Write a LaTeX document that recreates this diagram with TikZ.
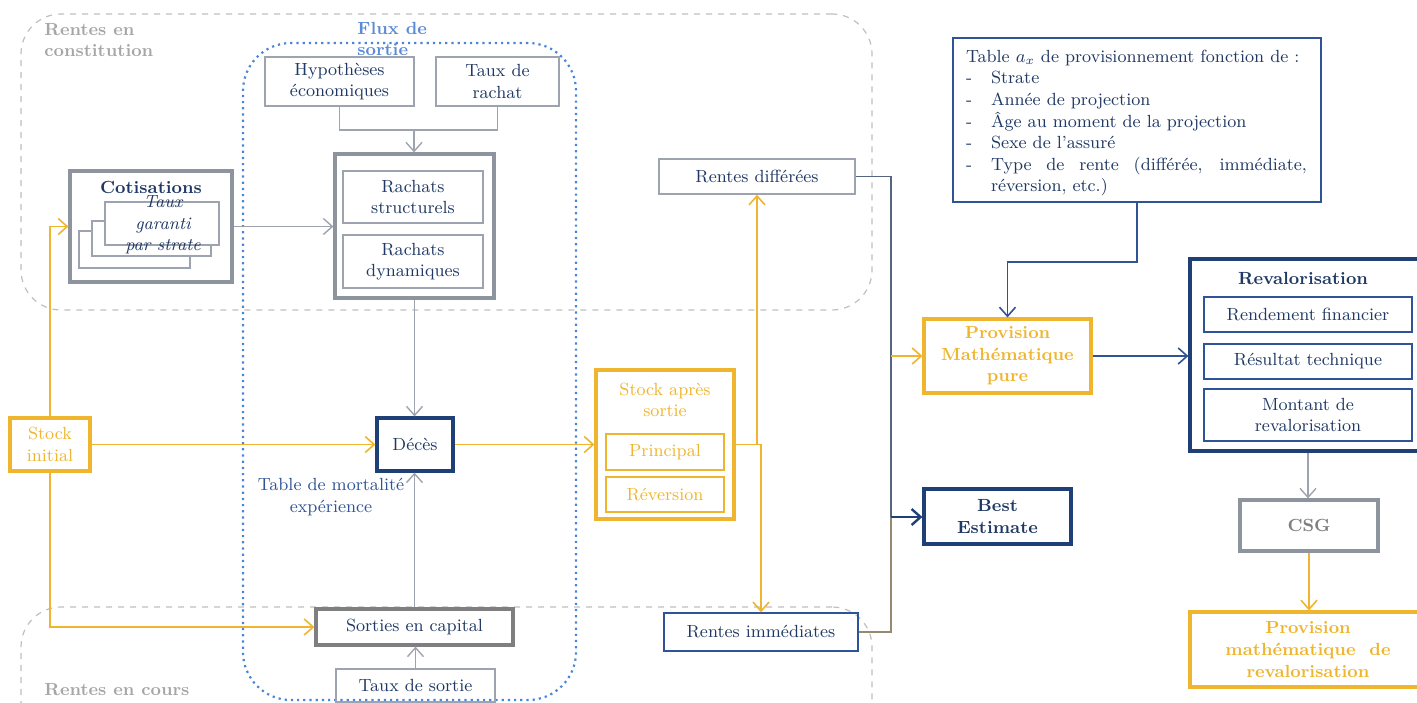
\documentclass[tikz,border=0pt]{standalone}
\usetikzlibrary{arrows.meta}
\definecolor{navy}{HTML}{1F3864}
\definecolor{dblue}{HTML}{1F3F77}
\definecolor{mblue}{HTML}{2F5496}
\definecolor{yel}{HTML}{EFB52E}
\definecolor{grayb}{HTML}{9EA4AF}
\definecolor{grayd}{HTML}{7F7F7F}
\definecolor{dashg}{HTML}{BFBFBF}
\definecolor{titg}{HTML}{A6A6A6}
\definecolor{dotb}{HTML}{4A86D8}
\definecolor{fluxb}{HTML}{5B8BD5}
\definecolor{slate}{HTML}{56657F}
\newcommand\bx[7]{%
 \pgfmathsetmacro\cx{(#2+#4)/2}\pgfmathsetmacro\cy{(#3+#5)/2}%
 \pgfmathsetmacro\bw{(#4-#2)*0.5}\pgfmathsetmacro\bh{(#5-#3)*0.5}%
 \node[#6, minimum width=\bw pt, minimum height=\bh pt] (#1) at (\cx,\cy) {#7};}
\tikzset{
 every node/.style={font=\fontsize{8.8}{10.8}\selectfont, inner sep=0pt, align=center, text=navy},
 thinblue/.style={draw=mblue, line width=0.7pt},
 thickblue/.style={draw=dblue, line width=1.6pt},
 thingray/.style={draw=grayb, line width=0.7pt},
 thickgray/.style={draw=grayb!90!black, line width=1.6pt},
 thickyel/.style={draw=yel, line width=1.6pt, text=yel},
 thinyel/.style={draw=yel, line width=0.7pt, text=yel},
 region/.style={draw=dashg, dashed, line width=0.6pt, rounded corners=20pt},
 tip/.style={-{Straight Barb[length=4.5pt,width=8pt]}},
 gline/.style={draw=grayb, line width=0.7pt},
 yline/.style={draw=yel, line width=0.8pt},
 bline/.style={draw=slate, line width=0.9pt},
 page/.style={draw=grayb, line width=0.7pt, fill=white},
}
\begin{document}
\begin{tikzpicture}[x=0.5pt,y=-0.5pt]
\useasboundingbox (0,0) rectangle (1417,702);
% regions
\bx{constit}{21}{14}{872}{310}{region}{}
\bx{cours}{21}{607}{872}{760}{region}{}
\bx{flux}{243}{43}{576}{700}{draw=dotb, dotted, line width=1.1pt, rounded corners=24pt}{}
\node[anchor=west, align=left, text=titg, font=\fontsize{8.8}{10.8}\selectfont\bfseries] (lconstit) at (44,40) {Rentes en\\constitution};
\node[anchor=west, align=left, text=titg, font=\fontsize{8.8}{10.8}\selectfont\bfseries] (lcours) at (44,690) {Rentes en cours};
\node[anchor=west, align=left, text=fluxb, font=\fontsize{8.8}{10.8}\selectfont\bfseries] (lflux) at (357,39) {Flux de\\sortie};
% top boxes
\bx{hyp}{265}{57}{414}{106}{thingray}{Hypothèses\\économiques}
\bx{taux}{436}{57}{559}{106}{thingray}{Taux de\\rachat}
\bx{rach}{335}{154}{494}{298}{thickgray}{}
\bx{rstruct}{343}{171}{483}{223}{thingray}{Rachats\\structurels}
\bx{rdyn}{343}{235}{483}{288}{thingray}{Rachats\\dynamiques}
% cotisations
\bx{cot}{70}{171}{232}{282}{thickgray}{}
\node[font=\fontsize{8.8}{10.8}\selectfont\bfseries] (cottit) at (151,187) {Cotisations};
\bx{pg3}{79}{231}{190}{268}{page}{}
\bx{pg2}{92}{221}{211}{256}{page}{}
\bx{pg1}{105}{202}{219}{245}{page}{}
\node[font=\fontsize{8.8}{10.8}\selectfont\itshape] (tgs) at (163,225) {Taux\\garanti\\par strate};
% stock initial & deces
\bx{stock}{10}{418}{90}{471}{thickyel}{Stock\\initial}
\bx{deces}{377}{418}{453}{471}{thickblue}{Décès}
\node[text=mblue] (tmort) at (331,497) {Table de mortalité\\expérience};
\bx{sort}{316}{609}{513}{645}{draw=grayd, line width=1.6pt}{Sorties en capital}
\bx{tsort}{336}{669}{495}{702}{thingray}{Taux de sortie}
% stock apres sortie
\bx{sas}{596}{370}{734}{519}{thickyel}{}
\node[text=yel] (sastit) at (665,400) {Stock après\\sortie};
\bx{princ}{606}{434}{724}{470}{thinyel}{Principal}
\bx{rev}{606}{477}{724}{512}{thinyel}{Réversion}
\bx{rdiff}{659}{159}{855}{194}{thingray}{Rentes différées}
\bx{rimm}{664}{613}{858}{651}{thinblue}{Rentes immédiates}
% right part
\bx{tab}{953}{38}{1321}{202}{thinblue}{\parbox{171pt}{\vspace*{3pt}Table $a_x$ de provisionnement fonction de :\\
\makebox[12.5pt][l]{-}Strate\\
\makebox[12.5pt][l]{-}Année de projection\\
\makebox[12.5pt][l]{-}Âge au moment de la projection\\
\makebox[12.5pt][l]{-}Sexe de l'assuré\\
\makebox[12.5pt][l]{-}\parbox[t]{158pt}{Type de rente (différée, immédiate, réversion, etc.)}}}
\bx{pm}{924}{319}{1091}{393}{thickyel, font=\fontsize{8.8}{10.8}\selectfont\bfseries}{Provision\\Mathématique\\pure}
\bx{be}{924}{489}{1071}{544}{thickblue, font=\fontsize{8.8}{10.8}\selectfont\bfseries}{Best\\Estimate}
\bx{reval}{1190}{259}{1426}{451}{thickblue}{}
\node[font=\fontsize{8.8}{10.8}\selectfont\bfseries] (revtit) at (1303,278) {Revalorisation};
\bx{rend}{1204}{297}{1412}{332}{thinblue}{Rendement financier}
\bx{resu}{1204}{344}{1412}{379}{thinblue}{Résultat technique}
\bx{mont}{1204}{389}{1412}{441}{thinblue}{Montant de\\revalorisation}
\bx{csg}{1240}{500}{1378}{551}{thickgray, text=grayd, font=\fontsize{8.8}{10.8}\selectfont\bfseries}{CSG}
\bx{pmr}{1190}{612}{1426}{687}{thickyel, font=\fontsize{8.8}{10.8}\selectfont\bfseries}{Provision\\mathématique\ \ de\\revalorisation}
% connectors
\coordinate (j1) at (414,130);
\draw[gline] (hyp.south) |- (j1);
\draw[gline] (taux.south) |- (j1);
\draw[gline, tip] (j1) -- (j1 |- rach.north);
\draw[gline, tip] (cot.east) -- (cot.east -| rach.west);
\draw[gline, tip] (rach.south) -- (rach.south |- deces.north);
\draw[gline, tip] (sort.north) -- (sort.north |- deces.south);
\draw[gline, tip] (tsort.north) -- (tsort.north |- sort.south);
\draw[yline, tip] (stock.north) |- (cot.west);
\draw[yline, tip] (stock.east) -- (deces.west);
\draw[yline, tip] (stock.south) |- (sort.west);
\draw[yline, tip] (deces.east) -- (sas.west);
\draw[yline, tip] (sas.east) -| (rdiff.south);
\draw[yline, tip] (sas.east) -| (rimm.north);
\coordinate (busb) at (891,517);
\coordinate (busp) at (891,356);
\draw[bline] (rdiff.east) -| (busb);
\draw[draw=grayd!80!yel, line width=0.9pt] (rimm.east) -| (busb);
\draw[draw=dblue, line width=1.2pt, tip] (busb) -- (busb -| be.west);
\draw[yline, tip] (busp) -- (busp -| pm.west);
\draw[draw=mblue, line width=0.8pt, tip] (tab.south) -- ++(0,59) -| (pm.north);
\draw[draw=mblue, line width=0.8pt, tip] (pm.east) -- (pm.east -| reval.west);
\draw[gline, tip] (reval.south) -- (reval.south |- csg.north);
\draw[yline, tip] (csg.south) -- (csg.south |- pmr.north);
\end{tikzpicture}
\end{document}
